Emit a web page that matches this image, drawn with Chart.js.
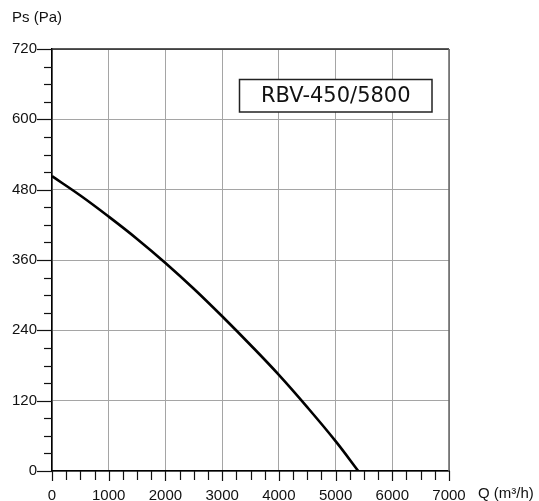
<!DOCTYPE html>
<html>
<head>
<meta charset="utf-8">
<script src="https://cdn.jsdelivr.net/npm/chart.js@4"></script>
<style>
  html, body { margin: 0; padding: 0; background: #fff; }
  #wrap { position: relative; width: 539px; height: 501px; }
</style>
</head>
<body>
<div id="wrap"><canvas id="fanChart"></canvas></div>
<script>
  const modelName = "RBV-450/5800";
  const flowRates = [0, 500, 1000, 1500, 2000, 2500, 3000, 3500, 4000, 4500, 5000, 5400];
  const staticPressure = [503, 470, 434, 396, 355, 311, 264, 215, 164, 109, 51, 0];
  const flowTicks = [0, 1000, 2000, 3000, 4000, 5000, 6000, 7000];
  const pressureTicks = [0, 120, 240, 360, 480, 600, 720];
  const flowMinorStep = 250;
  const pressureMinorStep = 30;

  const labelFont = '15px "Liberation Sans", Arial, sans-serif';
  const inkColor = "#111";

  const decorPlugin = {
    id: "decor",
    afterDraw(chart) {
      const { ctx, chartArea, scales } = chart;
      const xs = scales.x;
      const ys = scales.y;
      ctx.save();

      // top and right frame
      ctx.lineWidth = 1.5;
      ctx.strokeStyle = "#222";
      ctx.beginPath();
      ctx.moveTo(chartArea.left, chartArea.top);
      ctx.lineTo(chartArea.right, chartArea.top);
      ctx.stroke();
      ctx.strokeStyle = "#666";
      ctx.beginPath();
      ctx.moveTo(chartArea.right, chartArea.top);
      ctx.lineTo(chartArea.right, chartArea.bottom);
      ctx.stroke();

      // y ticks, long at labels
      ctx.strokeStyle = "#111";
      ctx.lineWidth = 1.2;
      for (let v = 0; v <= pressureTicks[pressureTicks.length - 1]; v += pressureMinorStep) {
        const y = Math.round(ys.getPixelForValue(v)) + 0.5;
        const len = pressureTicks.includes(v) ? 15 : 8;
        ctx.beginPath();
        ctx.moveTo(chartArea.left - len, y);
        ctx.lineTo(chartArea.left, y);
        ctx.stroke();
      }

      // x ticks
      for (let v = 0; v <= flowTicks[flowTicks.length - 1]; v += flowMinorStep) {
        const x = Math.round(xs.getPixelForValue(v)) + 0.5;
        const len = flowTicks.includes(v) ? 10 : 9;
        ctx.beginPath();
        ctx.moveTo(x, chartArea.bottom);
        ctx.lineTo(x, chartArea.bottom + len);
        ctx.stroke();
      }

      // axis names
      ctx.fillStyle = inkColor;
      ctx.font = labelFont;
      ctx.textBaseline = "middle";
      ctx.textAlign = "left";
      ctx.fillText("Ps (Pa)", 12, 18);
      ctx.fillText("Q (m³/h)", 478, 494);

      // model box
      const bx = 239.5, by = 79.5, bw = 192.5, bh = 32.5;
      ctx.fillStyle = "#fff";
      ctx.fillRect(bx, by, bw, bh);
      ctx.lineWidth = 1.5;
      ctx.strokeStyle = "#222";
      ctx.strokeRect(bx, by, bw, bh);
      ctx.fillStyle = inkColor;
      ctx.font = '21px "DejaVu Sans", sans-serif';
      ctx.textAlign = "center";
      ctx.fillText(modelName, bx + bw / 2, by + bh / 2 + 1);

      ctx.restore();
    }
  };

  const points = flowRates.map((q, i) => ({ x: q, y: staticPressure[i] }));

  new Chart(document.getElementById("fanChart"), {
    type: "line",
    data: {
      datasets: [{
        label: modelName,
        data: points,
        borderColor: "#000",
        borderWidth: 2.6,
        pointRadius: 0,
        fill: false,
        tension: 0.4
      }]
    },
    options: {
      responsive: true,
      maintainAspectRatio: false,
      animation: false,
      layout: { padding: { top: 49, right: 90, left: 0, bottom: 0 } },
      plugins: {
        legend: { display: false },
        tooltip: { enabled: false }
      },
      scales: {
        x: {
          type: "linear",
          min: 0,
          max: 7000,
          afterFit(scale) { scale.height = 30; },
          afterBuildTicks(scale) { scale.ticks = flowTicks.map((v) => ({ value: v })); },
          border: { display: true, color: "#000", width: 1.5 },
          grid: { color: "#a5a5a5", lineWidth: 1, drawTicks: false },
          ticks: {
            autoSkip: false,
            maxRotation: 0,
            padding: 16,
            color: inkColor,
            font: { family: '"Liberation Sans", Arial, sans-serif', size: 15 },
            callback(value) { return String(value); }
          }
        },
        y: {
          type: "linear",
          min: 0,
          max: 720,
          afterFit(scale) { scale.width = 52; },
          afterBuildTicks(scale) { scale.ticks = pressureTicks.map((v) => ({ value: v })); },
          border: { display: true, color: "#000", width: 1.5 },
          grid: { color: "#a5a5a5", lineWidth: 1, drawTicks: false },
          ticks: {
            autoSkip: false,
            padding: 15,
            color: inkColor,
            font: { family: '"Liberation Sans", Arial, sans-serif', size: 15 },
            callback(value) { return String(value); }
          }
        }
      }
    },
    plugins: [decorPlugin]
  });
</script>
</body>
</html>
